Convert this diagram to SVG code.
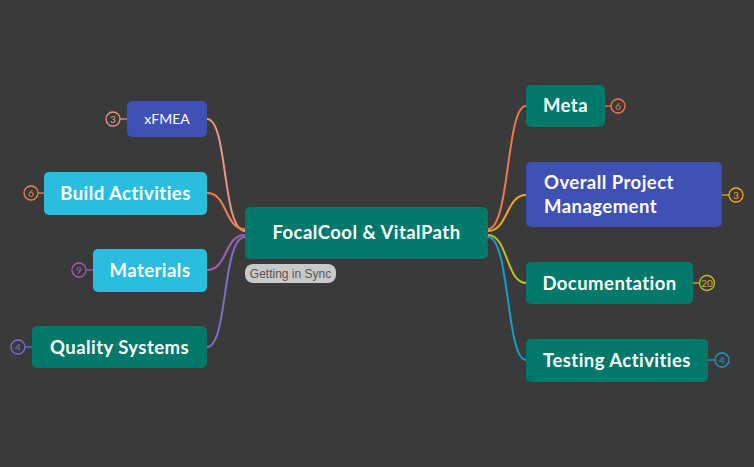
<svg xmlns="http://www.w3.org/2000/svg" width="754" height="467" viewBox="0 0 754 467">
<style>
.bg{fill:#3a3a3a}
.teal{fill:#00796b}
.blue{fill:#3f51b5}
.cyan{fill:#2bbde0}
.t{font-family:Lato,"Open Sans","Liberation Sans",sans-serif;font-weight:700;font-size:18.5px;letter-spacing:0.45px;fill:#ffffff;text-anchor:middle}
.tr{font-family:Lato,"Open Sans","Liberation Sans",sans-serif;font-weight:400;font-size:14px;fill:#ffffff;text-anchor:middle}
.c{fill:none;stroke-width:2;stroke-linecap:round}
.b{fill:none;stroke-width:1.3}
.bt{font-family:Lato,"Liberation Sans",sans-serif;font-size:10px;text-anchor:middle}
</style>
<rect class="bg" x="0" y="0" width="754" height="467"/>
<g id="connectors">
<path class="c" stroke="#e8958a" d="M207,119 C228,119 222,231 245,231"/>
<path class="c" stroke="#f08050" d="M207,193 C228,193 224,229 245,229"/>
<path class="c" stroke="#a25fb5" d="M207,270 C228,270 224,235 245,235"/>
<path class="c" stroke="#7b6fc6" d="M207,347 C228,347 222,237 245,237"/>
<path class="c" stroke="#f07850" d="M526,106 C506,106 510,229 488,229"/>
<path class="c" stroke="#f5a623" d="M526,195 C506,195 508,231 488,231"/>
<path class="c" stroke="#c0c020" d="M526,283 C506,283 508,235 488,235"/>
<path class="c" stroke="#1a9cc8" d="M526,360 C506,360 510,237 488,237"/>
<path class="b" stroke="#e8958a" d="M120,119 H127"/>
<path class="b" stroke="#f08050" d="M38,193 H45"/>
<path class="b" stroke="#a25fb5" d="M86,270 H93"/>
<path class="b" stroke="#7b6fc6" d="M25,347 H32"/>
<path class="b" stroke="#f07850" d="M605,106 H611"/>
<path class="b" stroke="#f5a623" d="M722,195 H729"/>
<path class="b" stroke="#c0c020" d="M693,283 H700"/>
<path class="b" stroke="#1a9cc8" d="M708,360 H715"/>
</g>
<g id="center">
<rect class="teal" x="245" y="207" width="243" height="52" rx="5"/>
<text class="t" x="366.5" y="239">FocalCool &amp; VitalPath</text>
<rect x="245" y="264" width="91" height="19" rx="8" fill="#c9c9c9"/>
<text x="290.5" y="277.5" font-family="Liberation Sans,Arial,sans-serif" font-size="12" fill="#555555" text-anchor="middle">Getting in Sync</text>
</g>
<g id="xfmea">
<rect class="blue" x="127" y="101" width="80" height="36" rx="5"/>
<text class="tr" x="167" y="124">xFMEA</text>
<circle class="b" stroke="#e8958a" cx="113" cy="119" r="7"/>
<text class="bt" fill="#e8958a" x="113" y="122.5">3</text>
</g>
<g id="build">
<rect class="cyan" x="44" y="172" width="163" height="43" rx="5"/>
<text class="t" x="125.5" y="199.5">Build Activities</text>
<circle class="b" stroke="#f08050" cx="31" cy="193" r="7"/>
<text class="bt" fill="#f08050" x="31" y="196.5">6</text>
</g>
<g id="materials">
<rect class="cyan" x="93" y="249" width="114" height="43" rx="5"/>
<text class="t" x="150" y="276.5">Materials</text>
<circle class="b" stroke="#a25fb5" cx="79" cy="270" r="7"/>
<text class="bt" fill="#a25fb5" x="79" y="273.5">9</text>
</g>
<g id="quality">
<rect class="teal" x="32" y="326" width="175" height="42" rx="5"/>
<text class="t" x="119.5" y="353.5">Quality Systems</text>
<circle class="b" stroke="#7b6fc6" cx="18" cy="347" r="7"/>
<text class="bt" fill="#7b6fc6" x="18" y="350.5">4</text>
</g>
<g id="meta">
<rect class="teal" x="526" y="85" width="79" height="42" rx="5"/>
<text class="t" x="565.5" y="112">Meta</text>
<circle class="b" stroke="#f07850" cx="618" cy="106" r="7"/>
<text class="bt" fill="#f07850" x="618" y="109.5">6</text>
</g>
<g id="opm">
<rect class="blue" x="526" y="162" width="196" height="65" rx="5"/>
<text class="t" x="544" y="189" style="text-anchor:start">Overall Project</text>
<text class="t" x="544" y="213" style="text-anchor:start">Management</text>
<circle class="b" stroke="#f5a623" cx="736" cy="195" r="7"/>
<text class="bt" fill="#f5a623" x="736" y="198.5">3</text>
</g>
<g id="documentation">
<rect class="teal" x="526" y="262" width="167" height="42" rx="5"/>
<text class="t" x="609.5" y="289.5">Documentation</text>
<circle class="b" stroke="#c0c020" cx="707" cy="283" r="7.5"/>
<text class="bt" fill="#c0c020" x="707" y="286.5">20</text>
</g>
<g id="testing">
<rect class="teal" x="526" y="339" width="182" height="43" rx="5"/>
<text class="t" x="617" y="366.5">Testing Activities</text>
<circle class="b" stroke="#1a9cc8" cx="722" cy="360" r="7"/>
<text class="bt" fill="#1a9cc8" x="722" y="363.5">4</text>
</g>
</svg>
